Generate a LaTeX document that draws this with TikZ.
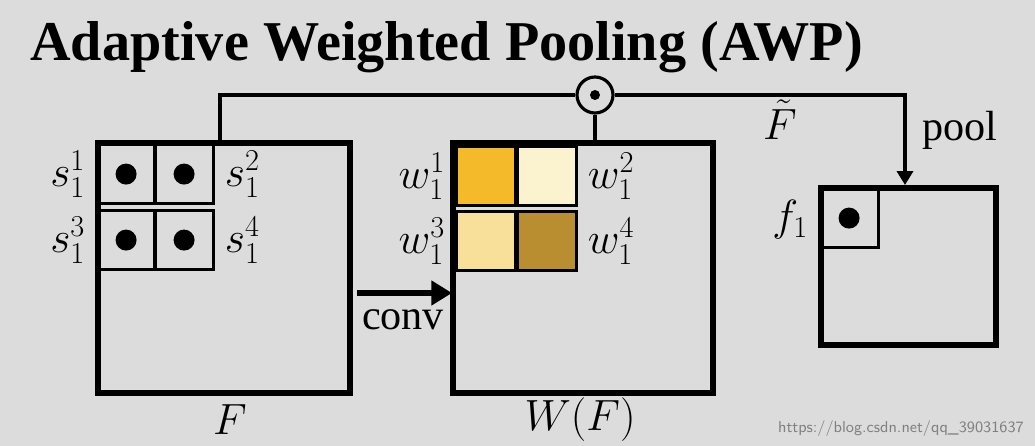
\documentclass[tikz,border=0pt]{standalone}
\usepackage{amsmath}
\usepackage{fontspec}
\setmainfont{Liberation Serif}
\usetikzlibrary{positioning,arrows.meta}
\definecolor{bgray}{HTML}{DCDCDC}
\definecolor{wa}{HTML}{F4BA2A}
\definecolor{wb}{HTML}{FBF3D0}
\definecolor{wc}{HTML}{F8E09A}
\definecolor{wd}{HTML}{B98E30}
\begin{document}
\begin{tikzpicture}[%
    x=0.02cm,
    y=-0.02cm,
    >=Triangle,
    map/.style={draw, line width=3.4pt, inner sep=0pt, anchor=north west},
    cell/.style={draw, line width=1.8pt, inner sep=0pt, minimum size=1.18cm, anchor=north west},
    dot/.style={circle, fill=black, inner sep=0pt, minimum size=0.42cm},
    lab/.style={font=\fontsize{24}{28}\selectfont},
    wire/.style={line width=1.8pt}
  ]
    \fill[bgray] (0,0) rectangle (1035,446);
    \useasboundingbox (0,0) rectangle (1035,446);

    \node[anchor=west, inner sep=0pt, font=\fontsize{32}{36}\selectfont\bfseries] (title) at (30,47) {Adaptive Weighted Pooling (AWP)};

    % feature map F
    \node[map, minimum width=5.04cm, minimum height=5cm] (F) at (95,140) {};
    \node[cell] (s1) at (95,143) {};
    \node[cell] (s2) at (153,143) {};
    \node[cell] (s3) at (95,209) {};
    \node[cell] (s4) at (153,209) {};
    \foreach \c in {s1,s2,s3,s4} \node[dot] at (\c) {};
    \node[lab, left=2pt of s1] {$s_1^1$};
    \node[lab, right=2pt of s2] {$s_1^2$};
    \node[lab, left=2pt of s3] {$s_1^3$};
    \node[lab, right=2pt of s4] {$s_1^4$};
    \node[lab] (Flab) at (230,420) {$F$};

    % weight map W(F)
    \node[map, minimum width=5.2cm, minimum height=5cm] (W) at (450,140) {};
    \node[cell, fill=wa] (w1) at (455,145) {};
    \node[cell, fill=wb] (w2) at (516,145) {};
    \node[cell, fill=wc] (w3) at (455,210) {};
    \node[cell, fill=wd] (w4) at (516,210) {};
    \node[lab, left=2pt of w1] {$w_1^1$};
    \node[lab, right=2pt of w2] {$w_1^2$};
    \node[lab, left=2pt of w3] {$w_1^3$};
    \node[lab, right=2pt of w4] {$w_1^4$};
    \node[lab] (Wlab) at (580,420) {$W(F)$};

    % conv arrow
    \coordinate (cs) at (357,293);
    \coordinate (ce) at (452,293);
    \draw[->, line width=3pt] (cs) -- (ce);
    \node[lab] (conv) at (403,320) {conv};

    % product and pooling
    \node[circle, draw, line width=1.8pt, minimum size=0.72cm, inner sep=0pt, fill=bgray] (prod) at (595,95) {};
    \node[dot, minimum size=0.2cm] at (prod) {};
    \coordinate (ft) at (220,143);
    \coordinate (fc) at (220,95);
    \coordinate (wt) at (595,141);
    \coordinate (pc) at (905,95);
    \draw[wire] (ft) -- (fc) -- (prod);
    \draw[wire] (prod) -- (wt);

    % pooled map
    \node[map, minimum width=3.5cm, minimum height=3.14cm] (P) at (818,185) {};
    \node[cell] (f1) at (818,187) {};
    \node[dot] at (f1) {};
    \node[lab, left=2pt of f1.south west, anchor=south east, yshift=2pt] {$f_1$};

    \draw[wire, ->] (prod) -- (pc) -- (P.north -| pc);
    \node[lab] (Ft) at (780,120) {$\tilde{F}$};
    \node[lab] (pool) at (960,130) {pool};

    \node[anchor=south east, text=gray, font=\fontsize{9}{10}\selectfont\sffamily] at (1030,443) {https://blog.csdn.net/qq\_39031637};
\end{tikzpicture}
\end{document}
